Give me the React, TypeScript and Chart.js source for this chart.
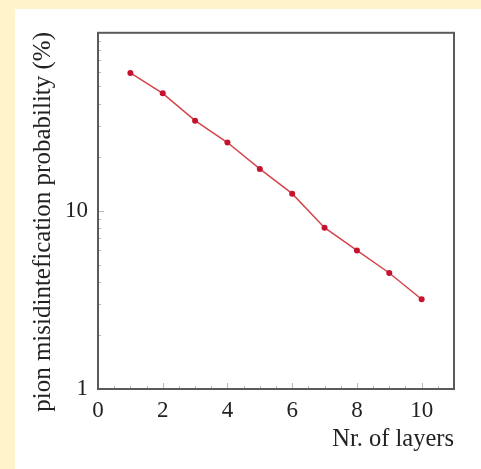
import React, { useEffect, useRef } from "react";
import { Chart, registerables } from "chart.js";

Chart.register(...registerables);

const layers = [1, 2, 3, 4, 5, 6, 7, 8, 9, 10];
const misidProbability = [59.5, 45.7, 32.1, 24.2, 17.2, 12.5, 8.05, 6.0, 4.48, 3.19];
const xTickLabels = ["0", "2", "4", "6", "8", "10"];
const yTickLabels = ["1", "10"];
const xMinorTicks = [0.5, 1, 1.5, 2.5, 3, 3.5, 4.5, 5, 5.5, 6.5, 7, 7.5, 8.5, 9, 9.5, 10.5];
const yMinorTicks = [2, 3, 4, 5, 6, 7, 8, 9, 20, 30, 40, 50, 60, 70, 80, 90];
const xTitle = "Nr. of layers";
const yTitle = "pion misidintefication probability (%)";

const FONT = "'Liberation Serif', 'DejaVu Serif', serif";

const framePlugin = {
  id: "frame",
  afterDraw(chart: any) {
    const { ctx, chartArea: a, scales } = chart;
    const xs = scales.x;
    const ys = scales.y;
    ctx.save();
    // minor/major inward ticks
    ctx.strokeStyle = "#b8b8b8";
    ctx.lineWidth = 1;
    ctx.beginPath();
    xMinorTicks.forEach((v) => {
      const px = Math.round(xs.getPixelForValue(v)) + 0.5;
      ctx.moveTo(px, a.bottom);
      ctx.lineTo(px, a.bottom - 3);
    });
    xTickLabels.forEach((t) => {
      const px = Math.round(xs.getPixelForValue(Number(t))) + 0.5;
      ctx.moveTo(px, a.bottom);
      ctx.lineTo(px, a.bottom - 6);
    });
    yMinorTicks.forEach((v) => {
      const py = Math.round(ys.getPixelForValue(v)) + 0.5;
      ctx.moveTo(a.left, py);
      ctx.lineTo(a.left + 3, py);
    });
    yTickLabels.forEach((t) => {
      const py = Math.round(ys.getPixelForValue(Number(t))) + 0.5;
      ctx.moveTo(a.left, py);
      ctx.lineTo(a.left + 6, py);
    });
    ctx.stroke();
    // frame
    ctx.strokeStyle = "#5a5a5a";
    ctx.lineWidth = 2;
    ctx.strokeRect(a.left, a.top, a.right - a.left, a.bottom - a.top);
    // y-axis title (shifted down like the original)
    ctx.fillStyle = "#222";
    ctx.font = `25px ${FONT}`;
    ctx.textAlign = "center";
    ctx.textBaseline = "middle";
    ctx.translate(28, (a.top + a.bottom) / 2 + 11);
    ctx.rotate(-Math.PI / 2);
    ctx.fillText(yTitle, 0, 0);
    ctx.restore();
  },
};

export default function App() {
  const ref = useRef<HTMLCanvasElement>(null);

  useEffect(() => {
    if (!ref.current) return;
    const chart = new Chart(ref.current, {
      type: "line",
      data: {
        datasets: [
          {
            data: layers.map((x, i) => ({ x, y: misidProbability[i] })),
            borderColor: "#d2464c",
            borderWidth: 1.5,
            pointRadius: 3,
            pointBackgroundColor: "#c4122f",
            pointBorderColor: "#c4122f",
            pointBorderWidth: 0,
            fill: false,
            tension: 0,
          },
        ],
      },
      options: {
        animation: false,
        responsive: false,
        maintainAspectRatio: false,
        layout: { padding: { top: 23, right: 27, left: 0, bottom: 0 } },
        plugins: { legend: { display: false }, tooltip: { enabled: false } },
        scales: {
          x: {
            type: "linear",
            min: 0,
            max: 11,
            grid: { display: false, drawTicks: false },
            border: { display: false },
            ticks: {
              stepSize: 2,
              includeBounds: false,
              autoSkip: false,
              maxRotation: 0,
              padding: 8,
              color: "#222",
              font: { family: FONT, size: 23 },
              callback: (v: any) => (xTickLabels.includes(String(v)) ? String(v) : ""),
            },
            title: {
              display: true,
              text: xTitle,
              align: "end",
              color: "#222",
              font: { family: FONT, size: 24.5 },
              padding: { top: 0, bottom: 15 },
            },
            afterFit: (s: any) => {
              s.height = 80;
            },
          },
          y: {
            type: "logarithmic",
            min: 1,
            max: 100,
            grid: { display: false, drawTicks: false },
            border: { display: false },
            ticks: {
              autoSkip: false,
              padding: 10,
              color: "#222",
              font: { family: FONT, size: 23 },
              callback: (v: any) => (yTickLabels.includes(String(v)) ? String(v) : ""),
            },
            title: { display: false },
            afterFit: (s: any) => {
              s.width = 83;
            },
          },
        },
      },
      plugins: [framePlugin],
    });
    return () => chart.destroy();
  }, []);

  return (
    <div style={{ position: "fixed", left: 0, top: 0, width: 481, height: 469, background: "#fef3c9", overflow: "hidden" }}>
      <div style={{ position: "absolute", left: 15, top: 9, width: 466, height: 460, background: "#ffffff" }}>
        <canvas ref={ref} width={466} height={460} style={{ display: "block", width: 466, height: 460 }} />
      </div>
    </div>
  );
}
